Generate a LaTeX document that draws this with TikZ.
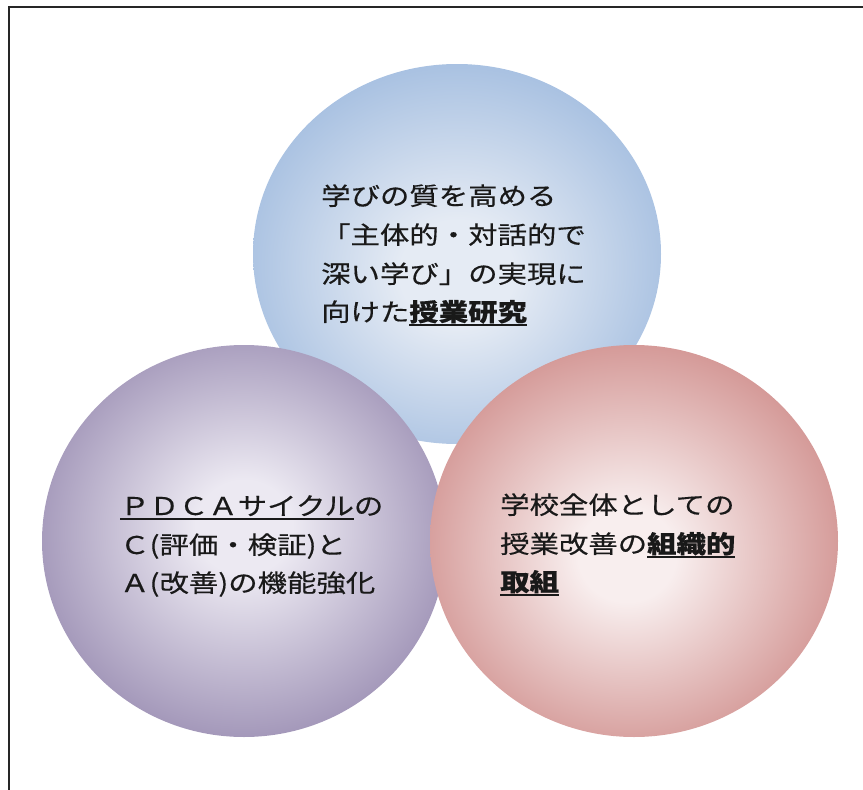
\documentclass[tikz,border=0pt]{standalone}
\usepackage{fontspec}
\newfontfamily\jp[FakeStretch=1.2,FakeBold=0.4]{Noto Sans CJK JP}
\definecolor{blueout}{RGB}{164,190,224}
\definecolor{bluein}{RGB}{229,235,244}
\definecolor{purout}{RGB}{160,148,183}
\definecolor{purin}{RGB}{236,233,242}
\definecolor{pinkout}{RGB}{211,150,148}
\definecolor{pinkin}{RGB}{248,238,238}
\pgfdeclareradialshading{shblue}{\pgfpoint{0bp}{-3bp}}{color(0bp)=(bluein);color(7bp)=(bluein);color(28bp)=(blueout);color(50bp)=(blueout)}
\pgfdeclareradialshading{shpur}{\pgfpoint{0bp}{2bp}}{color(0bp)=(purin);color(6bp)=(purin);color(27bp)=(purout);color(50bp)=(purout)}
\pgfdeclareradialshading{shpink}{\pgfpoint{-1bp}{-2bp}}{color(0bp)=(pinkin);color(6bp)=(pinkin);color(27bp)=(pinkout);color(50bp)=(pinkout)}
\newsavebox\julbox
\newcommand\jul[1]{\sbox\julbox{#1}\rlap{\rule[-4.5pt]{\wd\julbox}{1.6pt}}\usebox\julbox}
\tikzset{
  txt/.style={font=\jp\fontsize{24.5}{29}\selectfont, inner sep=0pt, anchor=base west, text=black!90},
  frameline/.style={line width=2pt, draw=black!85}
}
\begin{document}
\begin{tikzpicture}[x=1pt,y=-1pt]
\useasboundingbox (0,0) rectangle (863,790);
% frame
\draw[frameline] (9,790) -- (9,7) -- (863,7);
% circles
\shade[shading=shblue] (457,254) ellipse [x radius=204, y radius=190];
\shade[shading=shpur] (244,541) ellipse [x radius=202, y radius=196];
\shade[shading=shpink] (634,541) ellipse [x radius=204, y radius=196];
% top text
\node[txt] (b1) at (321,205) {学びの質を高める};
\node[txt] (b2) at (321,244) {「主体的・対話的で};
\node[txt] (b3) at (321,283) {深い学び」の実現に};
\node[txt] (b4) at (321,321) {向けた\jul{\bfseries 授業研究}};
% left text
\node[txt] (p1) at (120,515) {\jul{ＰＤＣＡサイクル}の};
\node[txt] (p2) at (120,554) {Ｃ(評価・検証)と};
\node[txt] (p3) at (120,592) {Ａ(改善)の機能強化};
% right text
\node[txt] (r1) at (500,514) {学校全体としての};
\node[txt] (r2) at (500,553) {授業改善の\jul{\bfseries 組織的}};
\node[txt] (r3) at (500,591) {\jul{\bfseries 取組}};
\end{tikzpicture}
\end{document}
